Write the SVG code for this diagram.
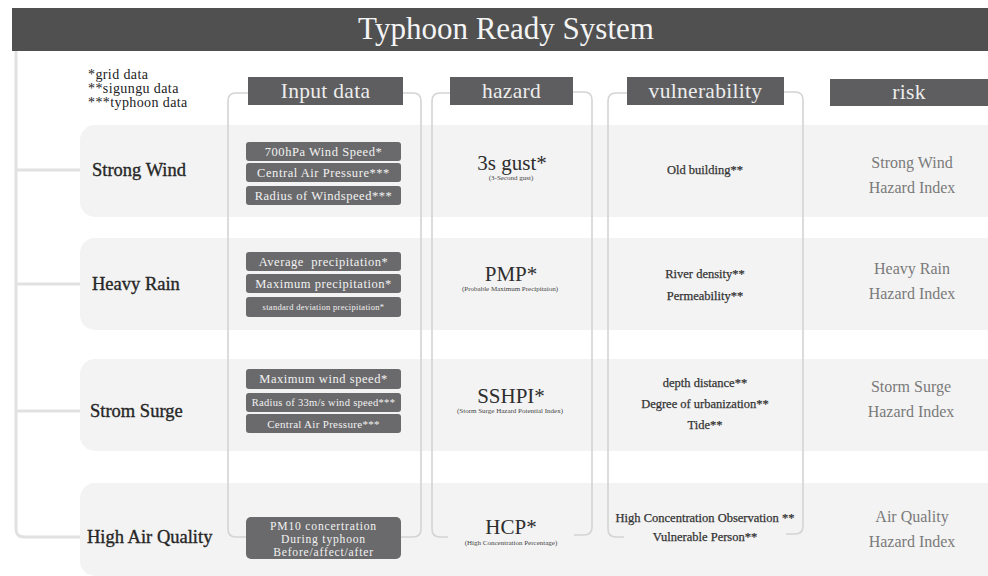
<svg xmlns="http://www.w3.org/2000/svg" width="988" height="576" viewBox="0 0 988 576">
  <defs>
    <style>
      text { font-family: "Liberation Serif", "DejaVu Serif", serif; }
      .bg { fill: #ffffff; }
      .title-bar { fill: #505050; }
      .title { fill: #f4f4f4; font-size: 31px; text-anchor: middle; }
      .legend { fill: #222; font-size: 14px; letter-spacing: 0.4px; }
      .head { fill: #5e5e60; }
      .head-t { fill: #ededed; font-size: 21.5px; text-anchor: middle; letter-spacing: 0.3px; }
      .row { fill: #f3f3f3; }
      .label { fill: #262626; font-size: 18.5px; stroke: #262626; stroke-width: 0.35; }
      .inbox { fill: #6a6a6c; }
      .in-t { fill: #f2f2f2; font-size: 12.5px; text-anchor: middle; letter-spacing: 0.55px; }
      .in-m { fill: #f2f2f2; font-size: 11.6px; text-anchor: middle; letter-spacing: 0.8px; }
      .hz { fill: #2e2e2e; font-size: 21px; text-anchor: middle; }
      .hz-s { fill: #444; font-size: 7px; text-anchor: middle; }
      .vu { fill: #333; font-size: 12.5px; text-anchor: middle; stroke: #333; stroke-width: 0.25; }
      .rk { fill: #7a7a7a; font-size: 16px; text-anchor: middle; }
      .tree { fill: none; stroke: #e1e1e1; stroke-width: 3; }
      .brk { fill: none; stroke: #d4d4d4; stroke-width: 1.6; }
    </style>
  </defs>

  <rect class="bg" x="0" y="0" width="988" height="576"/>

  <!-- title -->
  <g id="title">
    <rect class="title-bar" x="12" y="8" width="976" height="43"/>
    <text class="title" x="506" y="39">Typhoon Ready System</text>
  </g>

  <!-- legend of data sources -->
  <g id="legend">
    <text class="legend" x="88" y="79">*grid data</text>
    <text class="legend" x="88" y="93">**sigungu data</text>
    <text class="legend" x="88" y="107">***typhoon data</text>
  </g>

  <!-- row backgrounds -->
  <g id="rows">
    <rect class="row" x="80" y="125" width="930" height="92" rx="15"/>
    <rect class="row" x="80" y="238" width="930" height="92" rx="15"/>
    <rect class="row" x="80" y="359" width="930" height="92" rx="15"/>
    <rect class="row" x="80" y="483" width="930" height="93" rx="15"/>
  </g>

  <!-- connectors: tree on the left and column brackets -->
  <g id="connectors">
    <path class="tree" d="M16 51 V529 Q16 537 24 537 H80"/>
    <path class="tree" d="M16 170 H80 M16 284 H80 M16 411 H80"/>

    <path class="brk" d="M248 93 H236 Q228 93 228 101 V529 Q228 537 236 537 H246"/>
    <path class="brk" d="M403 93 H413 Q421 93 421 101 V529 Q421 537 413 537 H401"/>

    <path class="brk" d="M450 93 H440 Q432 93 432 101 V529 Q432 537 440 537 H448"/>
    <path class="brk" d="M573 92 H584 Q592 92 592 100 V527 Q592 535 584 535 H574"/>

    <path class="brk" d="M627 93 H616 Q608 93 608 101 V529 Q608 537 616 537 H624"/>
    <path class="brk" d="M784 92 H795 Q803 92 803 100 V526 Q803 534 795 534 H786"/>
  </g>

  <!-- column headers -->
  <g id="head-input">
    <rect class="head" x="248" y="77" width="155" height="28"/>
    <text class="head-t" x="325.5" y="98">Input data</text>
  </g>
  <g id="head-hazard">
    <rect class="head" x="450" y="77" width="123" height="28"/>
    <text class="head-t" x="511.5" y="98">hazard</text>
  </g>
  <g id="head-vulnerability">
    <rect class="head" x="627" y="77" width="157" height="28"/>
    <text class="head-t" x="705.5" y="98">vulnerability</text>
  </g>
  <g id="head-risk">
    <rect class="head" x="830" y="79" width="160" height="27"/>
    <text class="head-t" x="909" y="99">risk</text>
  </g>

  <!-- row: Strong Wind -->
  <g id="strong-wind">
    <text class="label" x="92" y="176">Strong Wind</text>
    <rect class="inbox" x="246" y="142" width="155" height="19" rx="3"/>
    <text class="in-t" x="323.5" y="156">700hPa Wind Speed*</text>
    <rect class="inbox" x="246" y="163" width="155" height="19" rx="3"/>
    <text class="in-t" x="323.5" y="177">Central Air Pressure***</text>
    <rect class="inbox" x="246" y="186" width="155" height="19" rx="3"/>
    <text class="in-t" x="323.5" y="200">Radius of Windspeed***</text>
    <text class="hz" x="512" y="170">3s gust*</text>
    <text class="hz-s" x="511" y="180">(3-Second gust)</text>
    <text class="vu" x="705" y="174">Old building**</text>
    <text class="rk" x="912" y="168">Strong Wind</text>
    <text class="rk" x="912" y="193">Hazard Index</text>
  </g>

  <!-- row: Heavy Rain -->
  <g id="heavy-rain">
    <text class="label" x="92" y="290">Heavy Rain</text>
    <rect class="inbox" x="246" y="252" width="155" height="19" rx="3"/>
    <text class="in-t" x="323.5" y="266" style="white-space:pre">Average  precipitation*</text>
    <rect class="inbox" x="246" y="274" width="155" height="19" rx="3"/>
    <text class="in-t" x="323.5" y="288">Maximum precipitation*</text>
    <rect class="inbox" x="246" y="297" width="155" height="20" rx="3"/>
    <text class="in-t" x="323.5" y="310" style="font-size:8.5px;letter-spacing:0.3px">standard deviation precipitation*</text>
    <text class="hz" x="511" y="281">PMP*</text>
    <text class="hz-s" x="510" y="291">(Probable Maximum Precipitaion)</text>
    <text class="vu" x="705" y="278">River density**</text>
    <text class="vu" x="705" y="300">Permeability**</text>
    <text class="rk" x="912" y="274">Heavy Rain</text>
    <text class="rk" x="912" y="299">Hazard Index</text>
  </g>

  <!-- row: Strom Surge -->
  <g id="strom-surge">
    <text class="label" x="90" y="417">Strom Surge</text>
    <rect class="inbox" x="246" y="369" width="155" height="20" rx="3"/>
    <text class="in-t" x="323.5" y="383">Maximum wind speed*</text>
    <rect class="inbox" x="246" y="393" width="155" height="19" rx="3"/>
    <text class="in-t" x="323.5" y="406" style="font-size:10.5px;letter-spacing:0.3px">Radius of 33m/s wind speed***</text>
    <rect class="inbox" x="246" y="414" width="155" height="19" rx="3"/>
    <text class="in-t" x="323.5" y="428" style="font-size:11px;letter-spacing:0.3px">Central Air Pressure***</text>
    <text class="hz" x="511" y="403">SSHPI*</text>
    <text class="hz-s" x="510" y="413">(Storm Surge Hazard Potential Index)</text>
    <text class="vu" x="705" y="387">depth distance**</text>
    <text class="vu" x="705" y="408">Degree of urbanization**</text>
    <text class="vu" x="705" y="429">Tide**</text>
    <text class="rk" x="911" y="392">Storm Surge</text>
    <text class="rk" x="911" y="417">Hazard Index</text>
  </g>

  <!-- row: High Air Quality -->
  <g id="high-air-quality">
    <text class="label" x="87" y="543">High Air Quality</text>
    <rect class="inbox" x="246" y="517" width="155" height="42" rx="5"/>
    <text class="in-m" x="323.5" y="529.5">PM10 concertration</text>
    <text class="in-m" x="323.5" y="542.5">During typhoon</text>
    <text class="in-m" x="323.5" y="555.5">Before/affect/after</text>
    <text class="hz" x="511" y="534">HCP*</text>
    <text class="hz-s" x="511" y="545">(High Concentration Percentage)</text>
    <text class="vu" x="705" y="522">High Concentration Observation **</text>
    <text class="vu" x="705" y="541">Vulnerable Person**</text>
    <text class="rk" x="912" y="522">Air Quality</text>
    <text class="rk" x="912" y="547">Hazard Index</text>
  </g>
</svg>
